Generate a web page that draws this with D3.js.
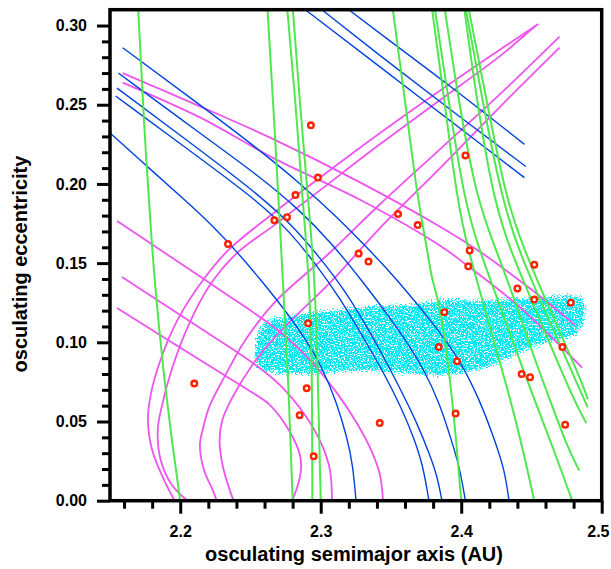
<!DOCTYPE html>
<html><head><meta charset="utf-8">
<script src="https://cdn.jsdelivr.net/npm/d3@7"></script>
<style>
html,body{margin:0;padding:0;background:#fff;}
text{font-family:"Liberation Sans",Arial,Helvetica,sans-serif;font-weight:bold;}
</style></head>
<body>
<svg id="chart" width="611" height="569"></svg>
<script>
// ---- tick values ----
const xTicksMajor = [2.2, 2.3, 2.4, 2.5];
const xTicksMinor = [2.16, 2.18, 2.22, 2.24, 2.26, 2.28, 2.32, 2.34, 2.36, 2.38, 2.42, 2.44, 2.46, 2.48];
const yTicksMajor = [0.00, 0.05, 0.10, 0.15, 0.20, 0.25, 0.30];
const yTicksMinor = [0.01,0.02,0.03,0.04,0.06,0.07,0.08,0.09,0.11,0.12,0.13,0.14,0.16,0.17,0.18,0.19,0.21,0.22,0.23,0.24,0.26,0.27,0.28,0.29];
const xTitle = "osculating semimajor axis (AU)";
const yTitle = "osculating eccentricity";

// ---- green curves (a, e) ----
const greenCurves = [
  [[2.170,0.312],[2.174,0.240],[2.180,0.156],[2.185,0.108],[2.189,0.074],[2.194,0.038],[2.200,0]],
  [[2.262,0.312],[2.266,0.253],[2.270,0.190],[2.273,0.139],[2.277,0.076],[2.280,0]],
  [[2.276,0.312],[2.282,0.253],[2.287,0.190],[2.292,0.139],[2.294,0.076],[2.294,0]],
  [[2.280,0.312],[2.285,0.253],[2.291,0.190],[2.296,0.139],[2.298,0.076],[2.300,0]],
  [[2.351,0.312],[2.360,0.253],[2.369,0.190],[2.376,0.158],[2.379,0.139],[2.385,0.125],[2.394,0.064],[2.400,0]],
  [[2.379,0.312],[2.388,0.253],[2.397,0.190],[2.405,0.158],[2.415,0.127],[2.425,0.095],[2.435,0.064],[2.444,0.032],[2.452,0]],
  [[2.381,0.312],[2.391,0.253],[2.402,0.190],[2.413,0.158],[2.426,0.127],[2.439,0.095],[2.452,0.064],[2.466,0.032],[2.479,0]],
  [[2.388,0.312],[2.398,0.253],[2.411,0.190],[2.425,0.158],[2.438,0.127],[2.450,0.095],[2.463,0.064],[2.475,0.035],[2.484,0.019]],
  [[2.402,0.312],[2.411,0.253],[2.423,0.190],[2.435,0.158],[2.450,0.127],[2.465,0.095],[2.480,0.064],[2.489,0.049]],
  [[2.403,0.312],[2.415,0.253],[2.429,0.190],[2.441,0.158],[2.456,0.127],[2.472,0.095],[2.486,0.067],[2.490,0.059]],
  [[2.405,0.312],[2.418,0.253],[2.432,0.190],[2.445,0.158],[2.460,0.127],[2.476,0.095],[2.488,0.070],[2.490,0.064]]
];

// ---- blue curves (a, e) ----
const blueCurves = [
  [[2.317,0.312],[2.342,0.295],[2.392,0.262],[2.445,0.225]],
  [[2.298,0.312],[2.342,0.281],[2.392,0.247],[2.446,0.211]],
  [[2.286,0.312],[2.342,0.274],[2.392,0.240],[2.445,0.204]],
  [[2.159,0.286],[2.214,0.250],[2.257,0.221],[2.285,0.2006],[2.310,0.1804],[2.335,0.158],[2.355,0.139],[2.381,0.111],[2.399,0.089],[2.413,0.064],[2.424,0.038],[2.431,0.019],[2.434,0]],
  [[2.156,0.270],[2.214,0.232],[2.257,0.2044],[2.285,0.1835],[2.307,0.1633],[2.328,0.1406],[2.356,0.1077],[2.374,0.0825],[2.385,0.0604],[2.393,0.0383],[2.399,0.0206],[2.403,0]],
  [[2.155,0.2605],[2.214,0.2215],[2.257,0.1924],[2.2817,0.1722],[2.2995,0.1532],[2.3173,0.1330],[2.3386,0.1013],[2.3564,0.0711],[2.3692,0.0478],[2.3777,0.0288],[2.3827,0.0162],[2.3863,0]],
  [[2.154,0.2555],[2.214,0.2163],[2.257,0.1879],[2.2781,0.1696],[2.2959,0.1501],[2.3137,0.1280],[2.3315,0.1013],[2.3457,0.0793],[2.3564,0.0604],[2.3656,0.0415],[2.3728,0.0225],[2.377,0]],
  [[2.146,0.2353],[2.1785,0.2094],[2.2034,0.1898],[2.2247,0.1722],[2.2411,0.1564],[2.2568,0.1400],[2.2745,0.1204],[2.2888,0.1027],[2.3009,0.0844],[2.3108,0.0635],[2.3187,0.0402],[2.3229,0.0225],[2.3251,0]]
];

// ---- magenta curves (a, e) ----
const magentaCurves = [
  [[2.159,0.270],[2.214,0.249],[2.267,0.228],[2.328,0.201],[2.385,0.173],[2.412,0.158],[2.449,0.134],[2.481,0.111]],
  [[2.159,0.264],[2.214,0.242],[2.267,0.216],[2.328,0.190],[2.385,0.161],[2.405,0.148],[2.442,0.122],[2.486,0.084]],
  [[2.455,0.301],[2.428,0.285],[2.385,0.259],[2.342,0.232],[2.298,0.203],[2.267,0.182],[2.234,0.158],[2.216,0.139],[2.198,0.114],[2.186,0.089],[2.179,0.067],[2.177,0.051],[2.180,0.032],[2.188,0.014],[2.196,0]],
  [[2.453,0.300],[2.428,0.281],[2.385,0.253],[2.342,0.225],[2.298,0.195],[2.267,0.174],[2.240,0.156],[2.221,0.136],[2.206,0.111],[2.194,0.083],[2.187,0.060],[2.184,0.045],[2.186,0.026],[2.194,0.010],[2.205,0]],
  [[2.470,0.293],[2.428,0.257],[2.385,0.222],[2.342,0.187],[2.307,0.157],[2.267,0.125],[2.246,0.101],[2.232,0.079],[2.221,0.060],[2.216,0.045],[2.214,0.035],[2.217,0.019],[2.223,0.007],[2.226,0]],
  [[2.470,0.286],[2.428,0.249],[2.385,0.210],[2.342,0.172],[2.307,0.138],[2.267,0.103],[2.250,0.084],[2.237,0.065],[2.230,0.051],[2.228,0.038],[2.230,0.023],[2.234,0.010],[2.238,0]],
  [[2.155,0.1766],[2.1891,0.1564],[2.2283,0.1330],[2.2674,0.1090],[2.2923,0.0888],[2.3116,0.0679],[2.3265,0.0478],[2.3365,0.0307],[2.3422,0.0162],[2.3443,0]],
  [[2.1585,0.1412],[2.2141,0.1090],[2.2496,0.0882],[2.2710,0.0730],[2.2888,0.0541],[2.3009,0.0351],[2.3066,0.0193],[2.3080,0]],
  [[2.155,0.1216],[2.2141,0.0888],[2.2461,0.0711],[2.2639,0.0604],[2.2781,0.0434],[2.2852,0.0288],[2.2859,0.0193],[2.2831,0.0080],[2.2795,0]]
];

// ---- cyan cloud outline (a, e) ----
const cloudOutline = [
  [2.2546,0.1015],[2.2582,0.1097],[2.2653,0.1141],[2.2745,0.1153],[2.2852,0.1172],[2.2995,0.1191],
  [2.3208,0.1210],[2.3457,0.1229],[2.3706,0.1242],[2.3884,0.1267],[2.4133,0.1261],[2.4382,0.1273],
  [2.4631,0.1286],[2.4788,0.1292],[2.4873,0.1267],[2.4881,0.1153],[2.4831,0.1059],[2.4667,0.1015],
  [2.4489,0.0964],[2.4347,0.0907],[2.4204,0.0850],[2.4027,0.0812],[2.3849,0.0794],[2.3600,0.0812],
  [2.3350,0.0825],[2.3101,0.0812],[2.2852,0.0800],[2.2674,0.0812],[2.2568,0.0838],[2.2539,0.0920]
];

// ---- red asteroids: semimajor axis, eccentricity ----
const astA = [2.234,2.267,2.276,2.282,2.293,2.298,2.355,2.369,2.327,2.334,2.403,2.406,2.405,2.452,2.440,2.452,2.478,2.472,2.443,2.449,2.396,2.474,2.388,2.384,2.397,2.291,2.290,2.285,2.342,2.295,2.210];
const astE = [0.162,0.177,0.179,0.193,0.237,0.204,0.181,0.174,0.156,0.151,0.218,0.158,0.148,0.149,0.134,0.127,0.125,0.097,0.080,0.078,0.055,0.048,0.119,0.097,0.088,0.112,0.071,0.054,0.049,0.028,0.074];

// ---- drawing ----
const svg = d3.select("#chart");
const x = d3.scaleLinear().domain([2.15, 2.5]).range([110, 601.7]);
const y = d3.scaleLinear().domain([0, 0.31]).range([500.7, 9.7]);

const defs = svg.append("defs");
defs.append("clipPath").attr("id","plotclip").append("rect")
  .attr("x", x(2.15)).attr("y", y(0.31)).attr("width", x(2.5)-x(2.15)).attr("height", y(0)-y(0.31));
const f = defs.append("filter").attr("id","speckle")
  .attr("x","-10%").attr("y","-40%").attr("width","120%").attr("height","180%");
f.append("feTurbulence").attr("type","fractalNoise").attr("baseFrequency","0.7").attr("numOctaves","2").attr("seed","7").attr("result","noise");
f.append("feDisplacementMap").attr("in","SourceGraphic").attr("in2","noise").attr("scale","14")
  .attr("xChannelSelector","R").attr("yChannelSelector","G").attr("result","rough");
f.append("feColorMatrix").attr("in","noise").attr("type","matrix")
  .attr("values","0 0 0 0 0  0 0 0 0 0  0 0 0 0 0  9 0 0 0 -3.3").attr("result","mask");
f.append("feComposite").attr("in","rough").attr("in2","mask").attr("operator","in");

svg.append("rect").attr("width",611).attr("height",569).attr("fill","#ffffff");

const plot = svg.append("g").attr("clip-path","url(#plotclip)");
const line = d3.line().x(d => x(d[0])).y(d => y(d[1])).curve(d3.curveBasis);
const lineR = d3.line().x(d => x(d[0])).y(d => y(d[1])).curve(d3.curveCatmullRom.alpha(0.5));

plot.append("path").datum(cloudOutline)
  .attr("d", d3.line().x(d => x(d[0])).y(d => y(d[1])).curve(d3.curveCatmullRomClosed))
  .attr("fill","#00e8f0").attr("filter","url(#speckle)");

plot.selectAll("path.mag").data(magentaCurves).join("path").attr("class","mag")
  .attr("d", lineR).attr("fill","none").attr("stroke","#ee55ee").attr("stroke-width",1.8);
plot.selectAll("path.blue").data(blueCurves).join("path").attr("class","blue")
  .attr("d", line).attr("fill","none").attr("stroke","#0044dd").attr("stroke-width",1.4);
plot.selectAll("path.green").data(greenCurves).join("path").attr("class","green")
  .attr("d", line).attr("fill","none").attr("stroke","#4ee84e").attr("stroke-width",2);

plot.selectAll("circle.ast").data(astA.map((a,i)=>[a, astE[i]])).join("circle").attr("class","ast")
  .attr("cx", d => x(d[0])).attr("cy", d => y(d[1])).attr("r", 2.8)
  .attr("fill","#ffffff").attr("stroke","#ff2200").attr("stroke-width",2.4);

// axes
function styleAxis(g){
  g.select(".domain").remove();
  g.selectAll(".tick line").attr("stroke","#000").attr("stroke-width",3);
  g.selectAll(".tick text").attr("fill","#000").style("font-size","16px").style("font-weight","bold")
    .style("font-family","'Liberation Sans',Arial,sans-serif");
}
svg.append("g").attr("transform",`translate(${x(2.15)},0)`)
  .call(d3.axisLeft(y).tickValues(yTicksMinor).tickSize(8).tickFormat("")).call(styleAxis);
svg.append("g").attr("transform",`translate(${x(2.15)},0)`)
  .call(d3.axisLeft(y).tickValues(yTicksMajor).tickSize(13).tickPadding(10).tickFormat(d3.format(".2f"))).call(styleAxis);
svg.append("g").attr("transform",`translate(0,${y(0)})`)
  .call(d3.axisBottom(x).tickValues(xTicksMinor).tickSize(8).tickFormat("")).call(styleAxis);
const xAx = svg.append("g").attr("transform",`translate(0,${y(0)})`)
  .call(d3.axisBottom(x).tickValues(xTicksMajor).tickSize(13).tickPadding(12).tickFormat(d3.format(".1f"))).call(styleAxis);
// keep the last label inside the 611px page
xAx.selectAll(".tick text").filter(d => d === 2.5).attr("text-anchor","end").attr("x", 609 - x(2.5));

svg.append("rect").attr("x", x(2.15)).attr("y", y(0.31)).attr("width", x(2.5)-x(2.15)).attr("height", y(0)-y(0.31))
  .attr("fill","none").attr("stroke","#000").attr("stroke-width",3.5);

svg.append("text").attr("x", 354).attr("y", 561).attr("text-anchor","middle")
  .style("font-size","20px").text(xTitle);
svg.append("text").attr("transform","translate(27,264) rotate(-90)").attr("text-anchor","middle")
  .style("font-size","20px").text(yTitle);
</script>
</body></html>
